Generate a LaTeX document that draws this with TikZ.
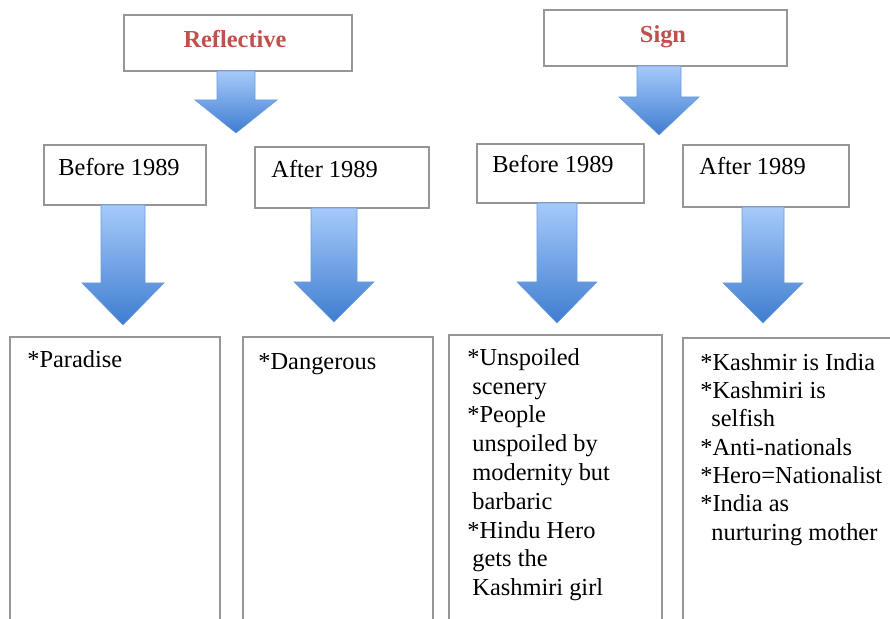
\documentclass[tikz,border=0pt]{standalone}
\usepackage{fontspec}
\setmainfont{Liberation Serif}
\definecolor{titlered}{RGB}{192,80,77}
\definecolor{boxgray}{RGB}{150,150,150}
\definecolor{arrowtop}{RGB}{166,202,250}
\definecolor{arrowbot}{RGB}{62,125,208}
\definecolor{arrowedge}{RGB}{110,155,220}
\tikzset{
  box/.style={draw=boxgray, line width=0.8pt, fill=white, inner sep=0pt},
  titletext/.style={font=\fontsize{12.2}{14}\selectfont\bfseries, text=titlered, inner sep=0pt},
  headtext/.style={font=\fontsize{12.2}{14}\selectfont, inner sep=0pt},
  bodytext/.style={font=\fontsize{12.2}{14.2}\selectfont, inner sep=0pt, align=left, anchor=north west},
  arrowfill/.style={top color=arrowtop, bottom color=arrowbot, draw=arrowedge, line width=0.3pt}
}
\newcommand{\blockarrow}[6]{%
  \shade[arrowfill] (#1-#5,#2) -- (#1+#5,#2) -- (#1+#5,#3) -- (#1+#6,#3) -- (#1,#4)
     -- (#1-#6,#3) -- (#1-#5,#3) -- cycle;}
\begin{document}
\begin{tikzpicture}[x=0.5pt,y=-0.5pt]
\clip (0,0) rectangle (890,619);
\fill[white] (0,0) rectangle (890,619);

% top boxes
\node[box, minimum width=114pt, minimum height=28pt] (refl) at (238,43) {};
\node[box, minimum width=121.5pt, minimum height=28pt] (sign) at (665.5,38) {};
\node[titletext, anchor=base] (refltxt) at (235,48) {Reflective};
\node[titletext, anchor=base] (signtxt) at (663,43) {Sign};

% second row boxes
\node[box, minimum width=81pt, minimum height=30pt] (lb) at (125,175) {};
\node[box, minimum width=87pt, minimum height=30.5pt] (la) at (342,177.5) {};
\node[box, minimum width=83.5pt, minimum height=29.5pt] (sb) at (560.5,173.5) {};
\node[box, minimum width=83pt, minimum height=31pt] (sa) at (766,176) {};
\node[headtext, anchor=base west] (lbtxt) at (58,176) {Before 1989};
\node[headtext, anchor=base west] (latxt) at (271,178) {After 1989};
\node[headtext, anchor=base west] (sbtxt) at (492,173) {Before 1989};
\node[headtext, anchor=base west] (satxt) at (699,175) {After 1989};

% arrows
\blockarrow{236}{71}{100}{133}{19}{41}
\blockarrow{659}{66}{97}{135}{22}{40}
\blockarrow{123}{205}{283}{325}{22}{41}
\blockarrow{334}{208}{282}{322}{23}{40}
\blockarrow{557}{203}{282}{323}{20}{40}
\blockarrow{763}{207}{283}{323}{21}{40}

% bottom boxes
\node[box, minimum width=105pt, minimum height=151.5pt] (p1) at (115,488.5) {};
\node[box, minimum width=95pt, minimum height=151.5pt] (p2) at (338,488.5) {};
\node[box, minimum width=106.5pt, minimum height=152.5pt] (p3) at (555.5,487.5) {};
\node[box, minimum width=113.5pt, minimum height=151pt] (p4) at (796.5,489) {};

\node[bodytext] (t1) at (27,347) {\rule{0pt}{10pt}*Paradise};
\node[bodytext] (t2) at (258,349) {\rule{0pt}{10pt}*Dangerous};
\node[bodytext, font=\fontsize{12.2}{14.4}\selectfont] (t3) at (467,345) {\rule{0pt}{10pt}*Unspoiled\\
\hspace*{2.5pt}scenery\\
*People\\
\hspace*{2.5pt}unspoiled by\\
\hspace*{2.5pt}modernity but\\
\hspace*{2.5pt}barbaric\\
*Hindu Hero\\
\hspace*{2.5pt}gets the\\
\hspace*{2.5pt}Kashmiri girl};
\node[bodytext, font=\fontsize{12.2}{14.15}\selectfont] (t4) at (700,350) {\rule{0pt}{10pt}*Kashmir is India\\
*Kashmiri is\\
\hspace*{5.5pt}selfish\\
*Anti-nationals\\
*Hero=Nationalist\\
*India as\\
\hspace*{5.5pt}nurturing mother};
\end{tikzpicture}
\end{document}
